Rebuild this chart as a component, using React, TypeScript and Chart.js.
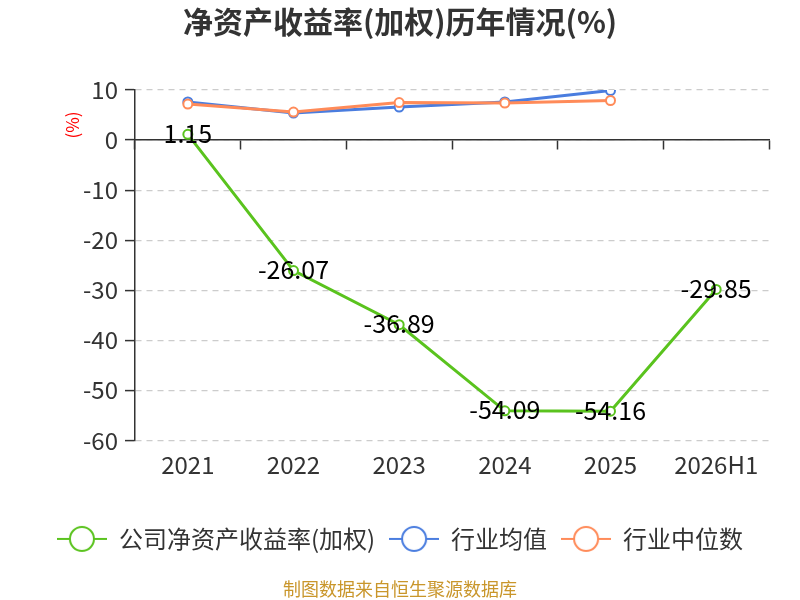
import { useEffect, useRef } from "react";
import { Chart, registerables } from "chart.js";
import type { ChartConfiguration, Plugin } from "chart.js";

Chart.register(...registerables);

const YEARS = ["2021", "2022", "2023", "2024", "2025", "2026H1"];
const COMPANY_ROE = [1.15, -26.07, -36.89, -54.09, -54.16, -29.85];
const INDUSTRY_AVG = [7.6, 5.4, 6.6, 7.6, 9.9, null];
const INDUSTRY_MEDIAN = [7.2, 5.6, 7.5, 7.4, 7.9, null];
const Y_TICKS = [10, 0, -10, -20, -30, -40, -50, -60];

const GREEN = "#5ac31e";
const BLUE = "#4a7ddf";
const ORANGE = "#ff8b59";
const FONT = "'Noto Sans CJK SC', 'Noto Sans', sans-serif";

// line with a hollow circle, for the legend
function legendMark(color: string) {
  const c = document.createElement("canvas");
  c.width = 50;
  c.height = 28;
  const g = c.getContext("2d")!;
  g.strokeStyle = color;
  g.lineWidth = 2;
  g.beginPath();
  g.moveTo(0, 14);
  g.lineTo(50, 14);
  g.stroke();
  g.beginPath();
  g.arc(25, 14, 12, 0, Math.PI * 2);
  g.fillStyle = "#fff";
  g.fill();
  g.stroke();
  return c;
}

const valueLabels: Plugin<"line"> = {
  id: "valueLabels",
  afterDatasetsDraw(chart) {
    const { ctx } = chart;
    const meta = chart.getDatasetMeta(0);
    ctx.save();
    ctx.font = `25px ${FONT}`;
    ctx.fillStyle = "#000";
    ctx.textAlign = "center";
    ctx.textBaseline = "middle";
    meta.data.forEach((pt, i) => {
      ctx.fillText(COMPANY_ROE[i].toFixed(2), pt.x, pt.y - 1);
    });
    ctx.restore();
  },
};

const unitLabel: Plugin<"line"> = {
  id: "unitLabel",
  afterDraw(chart) {
    const { ctx, chartArea } = chart;
    ctx.save();
    ctx.translate(chartArea.left - 62, chartArea.top + 35);
    ctx.rotate(-Math.PI / 2);
    ctx.font = `17px ${FONT}`;
    ctx.fillStyle = "#ff0000";
    ctx.textAlign = "center";
    ctx.textBaseline = "middle";
    ctx.fillText("(%)", 0, 0);
    ctx.restore();
  },
};

const lineStyle = (color: string) => ({
  borderColor: color,
  backgroundColor: color,
  borderWidth: 3,
  pointRadius: 4.5,
  pointHoverRadius: 4.5,
  pointBorderWidth: 2,
  pointBackgroundColor: "#fff",
  pointBorderColor: color,
  tension: 0,
  fill: false,
});

export default function App() {
  const canvasRef = useRef<HTMLCanvasElement | null>(null);

  useEffect(() => {
    document.body.style.margin = "0";
    const ctx = canvasRef.current!.getContext("2d")!;
    const marks = [legendMark(GREEN), legendMark(BLUE), legendMark(ORANGE)];

    const config: ChartConfiguration<"line", (number | null)[], string> = {
      type: "line",
      data: {
        labels: YEARS,
        datasets: [
          { label: "公司净资产收益率(加权)", data: COMPANY_ROE, order: 0, ...lineStyle(GREEN) },
          { label: "行业均值", data: INDUSTRY_AVG, order: 2, ...lineStyle(BLUE) },
          { label: "行业中位数", data: INDUSTRY_MEDIAN, order: 1, ...lineStyle(ORANGE) },
        ],
      },
      options: {
        responsive: false,
        animation: false,
        layout: { padding: 0 },
        plugins: {
          tooltip: { enabled: false },
          title: {
            display: true,
            text: "净资产收益率(加权)历年情况(%)",
            color: "#333",
            font: { family: FONT, size: 30, weight: "bold" },
            padding: { top: 4, bottom: 50 },
          },
          subtitle: {
            display: true,
            position: "bottom",
            text: "制图数据来自恒生聚源数据库",
            color: "#c9962b",
            font: { family: FONT, size: 18 },
            padding: { top: 17.5, bottom: 0 },
          },
          legend: {
            position: "bottom",
            labels: {
              usePointStyle: true,
              pointStyleWidth: 50,
              boxHeight: 24,
              padding: 14,
              color: "#333",
              font: { family: FONT, size: 24 },
              generateLabels: (chart) =>
                chart.data.datasets.map((ds, i) => ({
                  text: ds.label as string,
                  pointStyle: marks[i] as any,
                  fillStyle: "#fff",
                  strokeStyle: "#fff",
                  lineWidth: 0,
                  fontColor: "#333",
                  hidden: false,
                  datasetIndex: i,
                })),
            },
          },
        },
        scales: {
          x: {
            type: "category",
            offset: true,
            grid: { display: false, drawTicks: false },
            border: { display: false },
            ticks: { color: "#333", padding: 10, font: { family: FONT, size: 24 } },
            afterFit: (s) => {
              s.height = 72.5;
            },
          },
          x2: {
            type: "category",
            position: { y: 0 },
            offset: true,
            grid: {
              offset: true,
              drawOnChartArea: false,
              drawTicks: true,
              tickLength: 9,
              tickColor: "#333",
              tickWidth: 1.5,
            },
            border: { display: true, color: "#333", width: 1.5 },
            ticks: { display: false },
          },
          y: {
            min: -60,
            max: 10,
            afterBuildTicks: (s) => {
              s.ticks = Y_TICKS.map((v) => ({ value: v }));
            },
            grid: {
              color: "#cccccc",
              tickColor: "#333",
              tickLength: 10,
              tickWidth: 1.5,
              lineWidth: 1.2,
            },
            border: { display: true, color: "#333", width: 1.5, dash: [6, 5] },
            ticks: { color: "#333", padding: 7, font: { family: FONT, size: 24 } },
            afterFit: (s) => {
              s.width = 135;
            },
          },
          // empty right-hand margin so the title and legend stay centred on the page
          yRight: {
            position: "right",
            grid: { display: false, drawTicks: false },
            border: { display: false },
            ticks: { display: false },
            afterFit: (s) => {
              s.width = 31;
            },
          },
        },
      },
      plugins: [valueLabels, unitLabel],
    };

    const chart = new Chart(ctx, config as any);
    return () => chart.destroy();
  }, []);

  return (
    <div style={{ width: 800, height: 600 }}>
      <canvas ref={canvasRef} width={800} height={600} />
    </div>
  );
}
